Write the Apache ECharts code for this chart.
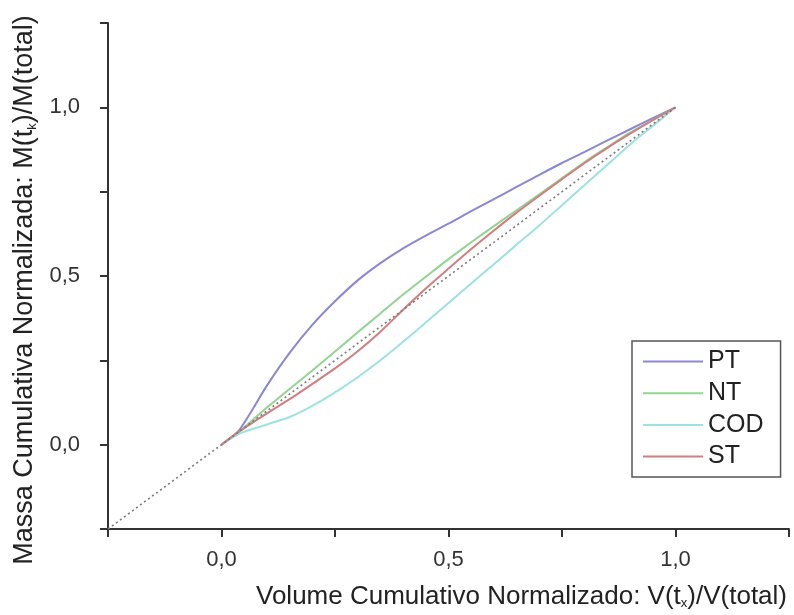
<!DOCTYPE html>
<html>
<head>
<meta charset="utf-8">
<script src="https://cdn.jsdelivr.net/npm/echarts@6/dist/echarts.min.js"></script>
<style>html,body{margin:0;padding:0;background:#fff}#c{width:794px;height:615px}</style>
</head>
<body>
<div id="c"></div>
<script>
var xVals   = [0, 0.04, 0.1, 0.15, 0.2, 0.25, 0.3, 0.35, 0.4, 0.45, 0.5, 0.55, 0.6, 0.65, 0.7, 0.75, 0.8, 0.85, 0.9, 0.95, 1.0];
var ptVals  = [0, 0.045, 0.175, 0.272, 0.355, 0.425, 0.487, 0.538, 0.582, 0.62, 0.655, 0.692, 0.728, 0.764, 0.80, 0.835, 0.868, 0.902, 0.935, 0.968, 1.0];
var ntVals  = [0, 0.04, 0.11, 0.165, 0.22, 0.276, 0.333, 0.389, 0.445, 0.498, 0.55, 0.6, 0.648, 0.695, 0.742, 0.79, 0.838, 0.882, 0.925, 0.963, 1.0];
var codVals = [0, 0.033, 0.06, 0.082, 0.115, 0.155, 0.20, 0.25, 0.305, 0.362, 0.42, 0.478, 0.535, 0.593, 0.65, 0.71, 0.77, 0.83, 0.89, 0.945, 1.0];
var stVals  = [0, 0.04, 0.093, 0.135, 0.18, 0.226, 0.277, 0.335, 0.40, 0.463, 0.522, 0.58, 0.635, 0.688, 0.738, 0.787, 0.835, 0.88, 0.922, 0.962, 1.0];
var refX = [-0.25, 1.0];
var refY = [-0.25, 1.0];
var seriesNames = ['PT', 'NT', 'COD', 'ST'];
var tickLabels = ['0,0', '0,5', '1,0'];

function pairs(xs, ys) { return xs.map(function (x, i) { return [x, ys[i]]; }); }
function fmt(v) {
  var k = Math.round(v * 2);
  if (Math.abs(v * 2 - k) > 1e-6 || k < 0 || k > 2) return '';
  return tickLabels[k];
}
var FONT = '"Liberation Sans", Arial, sans-serif';
var colors = ['#8a88d6', '#92d592', '#9de2e2', '#d27e7e'];
var data = [ptVals, ntVals, codVals, stVals];

var chart = echarts.init(document.getElementById('c'), null, {renderer: 'canvas'});
var series = seriesNames.map(function (n, i) {
  return {
    name: n, type: 'line', data: pairs(xVals, data[i]), smooth: 0.25,
    showSymbol: false, symbol: 'none', color: colors[i],
    lineStyle: {color: colors[i], width: 2}, z: 2 + i
  };
});
series.push({
  type: 'line', data: pairs(refX, refY), showSymbol: false, symbol: 'none',
  lineStyle: {color: '#7a7a7a', width: 1.6, type: [2, 3]}, z: 10, silent: true
});

var subStyle = {fontSize: 13, verticalAlign: 'bottom', fontFamily: FONT, color: '#222', padding: [12, 0, 0, 0]};
var axisCommon = {
  type: 'value', min: -0.25, max: 1.25, interval: 0.25,
  splitLine: {show: false},
  axisLine: {show: true, onZero: false, lineStyle: {color: '#333', width: 2}},
  axisTick: {show: true, inside: false, length: 8, lineStyle: {color: '#333', width: 2}},
  axisLabel: {formatter: fmt, fontSize: 22, color: '#333', fontFamily: FONT}
};

chart.setOption({
  animation: false,
  backgroundColor: '#fff',
  grid: {left: 108, right: 5, top: 23, bottom: 86},
  xAxis: Object.assign({}, axisCommon, {
    axisLabel: Object.assign({}, axisCommon.axisLabel, {margin: 20}),
    name: 'Volume Cumulativo Normalizado: V(t{sub|x})/V(total)',
    nameLocation: 'middle', nameGap: 55,
    nameTextStyle: {fontSize: 26, color: '#222', fontFamily: FONT, padding: [0, 0, 0, 146], rich: {sub: subStyle}}
  }),
  yAxis: Object.assign({}, axisCommon, {
    axisLabel: Object.assign({}, axisCommon.axisLabel, {margin: 28}),
    name: 'Massa Cumulativa Normalizada: M(t{sub|k})/M(total)',
    nameLocation: 'middle', nameGap: 69,
    nameTextStyle: {fontSize: 27, color: '#222', fontFamily: FONT, padding: [0, 28, 0, 0], rich: {sub: subStyle}}
  }),
  legend: {
    data: seriesNames, orient: 'vertical', left: 632, top: 341,
    padding: [8, 17, 8, 11], itemWidth: 60, itemHeight: 2, itemGap: 6.7, icon: 'rect',
    borderColor: '#555', borderWidth: 1.5, backgroundColor: '#fff',
    textStyle: {fontSize: 25, lineHeight: 25, color: '#222', fontFamily: FONT}
  },
  series: series
});
</script>
</body>
</html>
